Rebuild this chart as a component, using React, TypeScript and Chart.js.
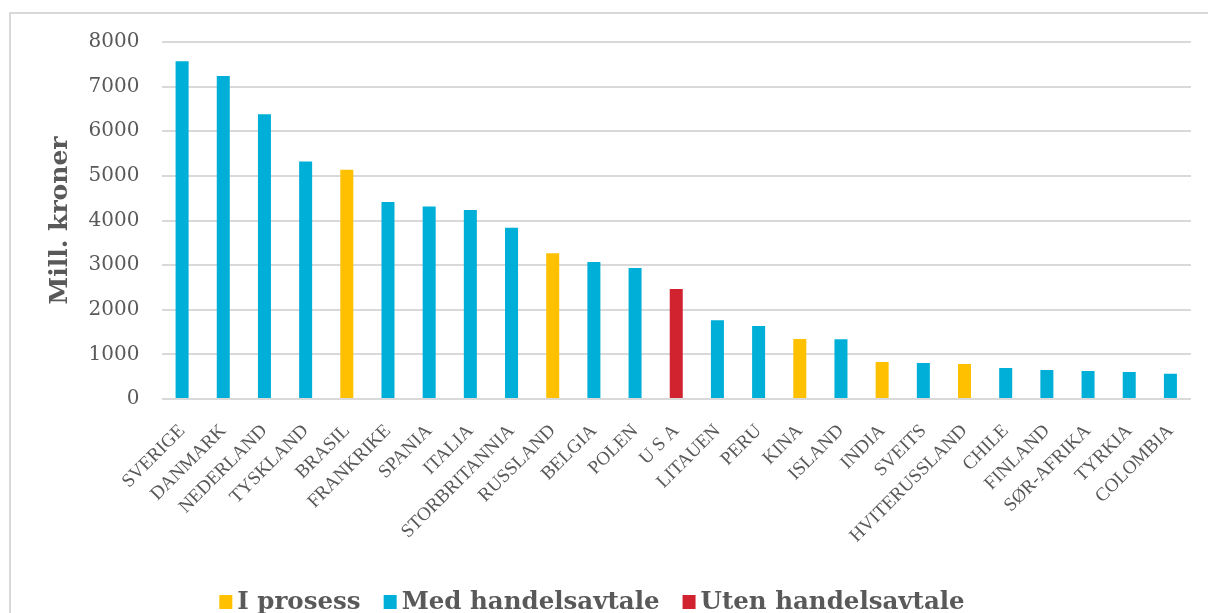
import React, { useEffect, useRef } from 'react';
import { Chart, registerables } from 'chart.js';

Chart.register(...registerables);

// Export by country, million NOK, grouped by trade agreement status
const countries = [
  'SVERIGE', 'DANMARK', 'NEDERLAND', 'TYSKLAND', 'BRASIL', 'FRANKRIKE', 'SPANIA',
  'ITALIA', 'STORBRITANNIA', 'RUSSLAND', 'BELGIA', 'POLEN', 'U S A', 'LITAUEN',
  'PERU', 'KINA', 'ISLAND', 'INDIA', 'SVEITS', 'HVITERUSSLAND', 'CHILE', 'FINLAND',
  'SØR-AFRIKA', 'TYRKIA', 'COLOMBIA',
];

const exportValues = [
  7570, 7240, 6380, 5320, 5140, 4415, 4315,
  4235, 3835, 3265, 3070, 2935, 2465, 1765,
  1635, 1345, 1340, 830, 805, 785, 695, 650,
  625, 605, 565,
];

const agreementStatus = [
  'med', 'med', 'med', 'med', 'prosess', 'med', 'med',
  'med', 'med', 'prosess', 'med', 'med', 'uten', 'med',
  'med', 'prosess', 'med', 'prosess', 'med', 'prosess', 'med', 'med',
  'med', 'med', 'med',
];

const statusKeys = ['prosess', 'med', 'uten'];
const statusLabels = ['I prosess', 'Med handelsavtale', 'Uten handelsavtale'];
const statusColors = ['#FFC000', '#00AFD7', '#D1232F'];

const axisTitle = 'Mill. kroner';
const yMin = 0;
const yMax = 8000;
const yStep = 1000;

const textColor = '#595959';

// Legend drawn under the plot: small square swatch followed by bold label
const bottomLegend = {
  id: 'bottomLegend',
  afterDraw(chart: any) {
    const ctx = chart.ctx as CanvasRenderingContext2D;
    ctx.save();
    ctx.font = 'bold 24.5px "DejaVu Serif"';
    const items = chart.data.datasets.map((ds: any) => ({ text: ds.label, color: ds.backgroundColor }));
    const boxW = 13;
    const boxH = 14;
    const gap = 5;
    const spacing = 23;
    const widths = items.map((it: any) => boxW + gap + ctx.measureText(it.text).width);
    const total = widths.reduce((a: number, b: number) => a + b, 0) + spacing * (items.length - 1);
    let x = 592 - total / 2;
    const baseline = 609;
    items.forEach((it: any, i: number) => {
      ctx.fillStyle = it.color;
      ctx.fillRect(x, baseline - boxH, boxW, boxH);
      ctx.fillStyle = textColor;
      ctx.textBaseline = 'alphabetic';
      ctx.textAlign = 'left';
      ctx.fillText(it.text, x + boxW + gap, baseline);
      x += widths[i] + spacing;
    });
    ctx.restore();
  },
};

export default function App() {
  const canvasRef = useRef<HTMLCanvasElement>(null);

  useEffect(() => {
    const canvas = canvasRef.current;
    if (!canvas) return;
    const chart = new Chart(canvas, {
      type: 'bar',
      data: {
        labels: countries,
        datasets: statusKeys.map((key, s) => ({
          label: statusLabels[s],
          data: exportValues.map((v, i) => (agreementStatus[i] === key ? v : null)),
          backgroundColor: statusColors[s],
          barPercentage: 0.316,
          categoryPercentage: 1,
          stack: 'all',
        })),
      },
      options: {
        responsive: false,
        animation: false,
        devicePixelRatio: 1,
        layout: { padding: { left: 45, right: 17, top: 42, bottom: 0 } },
        plugins: {
          legend: { display: false },
          tooltip: { enabled: false },
        },
        scales: {
          x: {
            stacked: true,
            grid: { display: false },
            border: { display: false },
            ticks: {
              autoSkip: false,
              maxRotation: 45,
              minRotation: 45,
              padding: 13,
              color: textColor,
              font: { family: '"Liberation Serif"', size: 19 },
            },
            afterFit: (scale: any) => {
              scale.height = 214;
            },
          },
          y: {
            stacked: true,
            min: yMin,
            max: yMax,
            ticks: {
              stepSize: yStep,
              padding: 22,
              color: textColor,
              font: { family: '"DejaVu Serif"', size: 20 },
              callback: (v: any) => String(v),
            },
            grid: { color: '#d9d9d9', lineWidth: 2, drawTicks: false },
            border: { display: false },
            title: {
              display: true,
              text: axisTitle,
              color: textColor,
              padding: 0,
              font: { family: '"DejaVu Serif"', size: 25, weight: 'bold' },
            },
            afterFit: (scale: any) => {
              scale.width = 116.5;
            },
          },
        },
      },
      plugins: [bottomLegend],
    } as any);
    return () => chart.destroy();
  }, []);

  return (
    <div
      style={{
        position: 'absolute',
        left: 0,
        top: 0,
        width: 1208,
        height: 613,
        overflow: 'hidden',
        background: '#ffffff',
      }}
    >
      <div
        style={{
          position: 'absolute',
          left: 9,
          top: 12,
          width: 1300,
          height: 700,
          border: '2px solid #d9d9d9',
        }}
      />
      <canvas
        ref={canvasRef}
        width={1208}
        height={613}
        style={{ position: 'absolute', left: 0, top: 0 }}
      />
    </div>
  );
}
